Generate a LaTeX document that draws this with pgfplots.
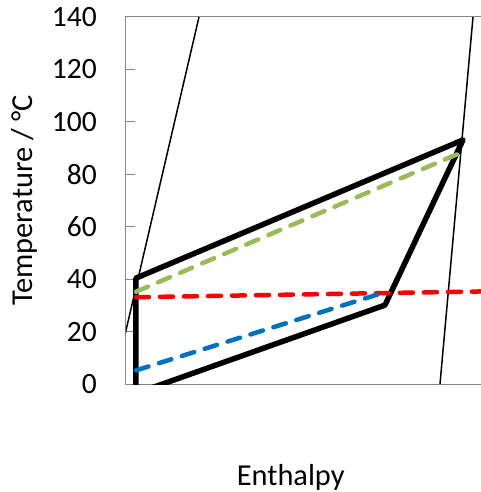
\documentclass[border=0pt]{standalone}
\usepackage{fontspec}
\setmainfont{Carlito}
\usepackage{pgfplots}
\pgfplotsset{compat=1.18}
\definecolor{axisgray}{RGB}{134,134,134}
\definecolor{xlgreen}{RGB}{155,187,89}
\definecolor{xlblue}{RGB}{0,112,192}
\definecolor{xlred}{RGB}{255,0,0}
\begin{document}
\begin{tikzpicture}
\begin{axis}[
  at={(0,0)}, anchor=south west,
  scale only axis,
  width=362bp, height=367bp,
  xmin=0, xmax=362,
  ymin=0, ymax=140,
  ytick={0,20,...,140},
  xtick=\empty,
  ytick pos=left,
  tick align=inside,
  major tick length=9.5bp,
  every tick/.style={axisgray, line width=1bp},
  axis line style={axisgray, line width=1bp},
  /pgf/number format/assume math mode=true,
  font=\fontsize{30.5}{36}\selectfont,
  yticklabel style={inner sep=0pt, xshift=-29bp, font=\fontsize{29.6}{35}\selectfont},
  ylabel={Temperature / °C},
  xlabel={Enthalpy},
  every axis y label/.style={at={(axis description cs:-0.2575,0.4997)}, rotate=90, anchor=base, inner sep=0pt, font=\fontsize{30.5}{36}\selectfont},
  every axis x label/.style={at={(axis description cs:0.455,-0.2752)}, anchor=base, inner sep=0pt, font=\fontsize{30.5}{36}\selectfont},
  clip=true,
]
% thin construction lines
\addplot[black, line width=1.5bp] coordinates {(-12.5,0) (73,140)};
\addplot[black, line width=1.5bp] coordinates {(314,0) (347,140)};
% thick cycle
\addplot[black, line width=5.5bp, line join=round] coordinates {(10,-3.6) (10,40.4) (337,93.1) (259,30.1) (10,-3.6)};
% dashed lines
\addplot[xlgreen, line width=4.5bp, line cap=round, dash pattern=on 13bp off 11bp] coordinates {(10,35.2) (337,88.6)};
\addplot[xlred, line width=4.5bp, line cap=round, dash pattern=on 13bp off 11bp] coordinates {(10,33.1) (362,35.35)};
\addplot[xlblue, line width=4.5bp, line cap=round, dash pattern=on 13bp off 11bp] coordinates {(10,5.2) (257,34.8)};
\end{axis}
\pgfresetboundingbox
\path[use as bounding box] (-126bp,-108bp) rectangle (355bp,384bp);
\end{tikzpicture}
\end{document}
